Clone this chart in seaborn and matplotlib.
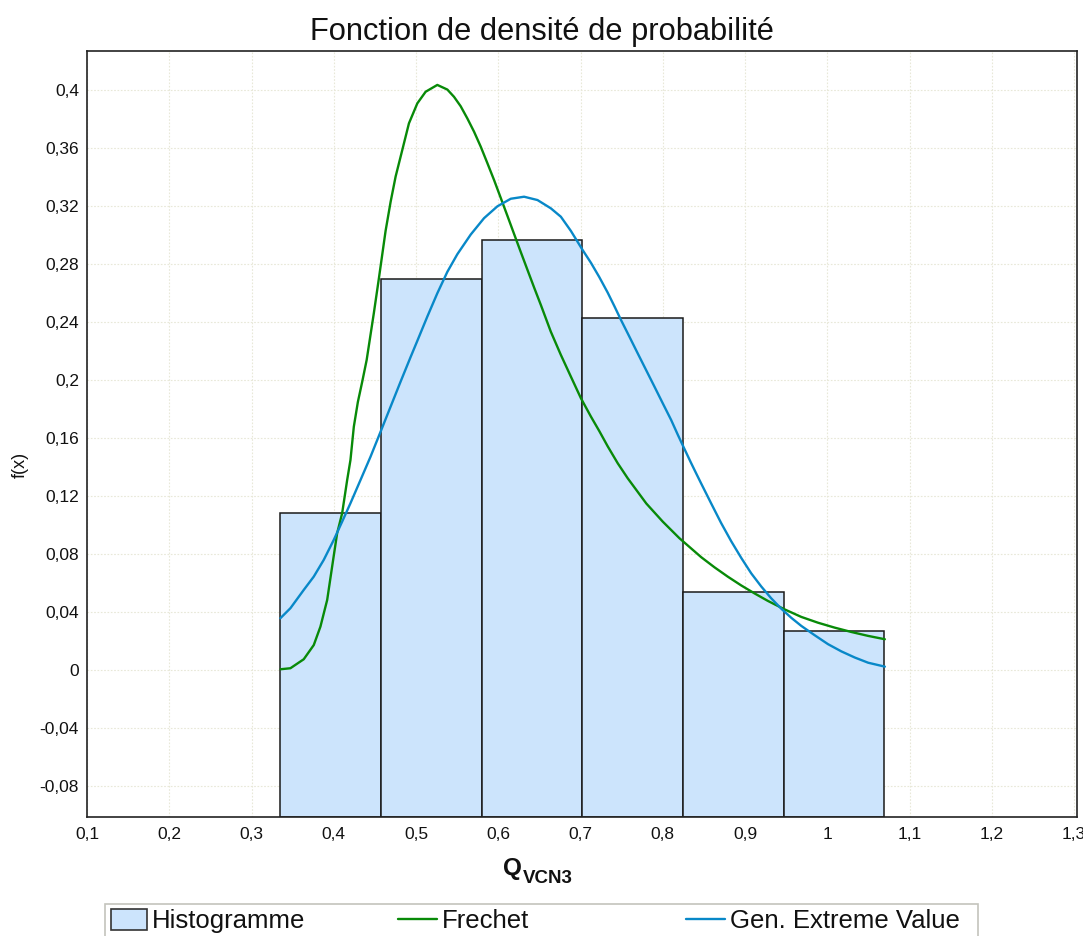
import numpy as np
import pandas as pd
import matplotlib
matplotlib.use("Agg")
import matplotlib.pyplot as plt
from matplotlib.ticker import MultipleLocator, FixedLocator
from matplotlib.patches import Rectangle, Patch
from matplotlib.lines import Line2D
import seaborn as sns

# ---------------- data ----------------
bin_edges = [0.335, 0.4574, 0.5798, 0.7022, 0.8246, 0.947, 1.0694]
bin_heights = [0.1085, 0.2699, 0.2968, 0.2430, 0.0540, 0.0271]

frechet_x = [0.3354, 0.3473, 0.3635, 0.3757, 0.3838, 0.3920, 0.3980, 0.4041,
             0.4102, 0.4163, 0.4203, 0.4244, 0.4293, 0.4346, 0.4400, 0.4487,
             0.4548, 0.4630, 0.4691, 0.4752, 0.4833, 0.4914, 0.5016, 0.5117,
             0.5259, 0.5381, 0.5462, 0.5543, 0.5625, 0.5706, 0.5787, 0.5868,
             0.5949, 0.6030, 0.6112, 0.6193, 0.6274, 0.6356, 0.6437, 0.6518,
             0.6639, 0.6761, 0.6883, 0.7005, 0.7127, 0.7228, 0.7330, 0.7452,
             0.7574, 0.78, 0.80, 0.82, 0.8467, 0.8629, 0.8792, 0.8954,
             0.9116, 0.9279, 0.9481, 0.9684, 0.9887, 1.009, 1.0293, 1.0497,
             1.07]
frechet_y = [0.0007, 0.0014, 0.0076, 0.0174, 0.0301, 0.0485, 0.0714, 0.0945,
             0.1083, 0.1312, 0.1450, 0.1680, 0.1850, 0.1990, 0.2140, 0.2462,
             0.2700, 0.3030, 0.3230, 0.3405, 0.3588, 0.3772, 0.3910, 0.3990,
             0.4037, 0.4005, 0.3955, 0.3890, 0.3805, 0.3714, 0.3611, 0.3497,
             0.3381, 0.3258, 0.3133, 0.3008, 0.2884, 0.2760, 0.2638, 0.2519,
             0.2335, 0.2175, 0.2025, 0.1876, 0.1749, 0.1650, 0.1545, 0.1428,
             0.1324, 0.1150, 0.1025, 0.0912, 0.0780, 0.0710, 0.0645, 0.0585,
             0.0530, 0.0478, 0.0420, 0.0368, 0.0328, 0.0294, 0.0264, 0.0237,
             0.0214]

gev_x = [0.3351, 0.3473, 0.3635, 0.3757, 0.3878, 0.4000, 0.4102, 0.4203,
         0.4325, 0.4447, 0.4569, 0.4691, 0.4812, 0.4934, 0.5016, 0.5138,
         0.5259, 0.5381, 0.5503, 0.5665, 0.5827, 0.5990, 0.6152, 0.6314,
         0.6477, 0.6639, 0.6761, 0.6883, 0.7025, 0.7127, 0.7228, 0.7330,
         0.7411, 0.7492, 0.7594, 0.7695, 0.7797, 0.7899, 0.8000, 0.8102,
         0.8183, 0.8263, 0.8344, 0.8406, 0.8467, 0.8589, 0.8710, 0.8832,
         0.8954, 0.9076, 0.9197, 0.9319, 0.9440, 0.9562, 0.9684, 0.9846,
         1.0009, 1.0172, 1.0334, 1.0497, 1.0700]
gev_y = [0.0359, 0.0428, 0.0554, 0.0646, 0.0761, 0.0899, 0.1025, 0.1152,
         0.1312, 0.1473, 0.1645, 0.1818, 0.1990, 0.2160, 0.2272, 0.2440,
         0.2600, 0.2748, 0.2870, 0.3005, 0.3118, 0.3200, 0.3252, 0.3266,
         0.3243, 0.3186, 0.3128, 0.3030, 0.2899, 0.2810, 0.2712, 0.2605,
         0.2512, 0.2416, 0.2301, 0.2186, 0.2071, 0.1956, 0.1841, 0.1726,
         0.1624, 0.1527, 0.1430, 0.1358, 0.1288, 0.1150, 0.1015, 0.0890,
         0.0775, 0.0668, 0.0578, 0.0496, 0.0425, 0.0362, 0.0306, 0.0242,
         0.0180, 0.0130, 0.0088, 0.0052, 0.0025]

x_ticks = [0.1, 0.2, 0.3, 0.4, 0.5, 0.6, 0.7, 0.8, 0.9, 1.0, 1.1, 1.2, 1.3]
x_ticklabels = ["0,1", "0,2", "0,3", "0,4", "0,5", "0,6", "0,7", "0,8",
                "0,9", "1", "1,1", "1,2", "1,3"]
y_ticks = [-0.08, -0.04, 0.0, 0.04, 0.08, 0.12, 0.16, 0.2, 0.24, 0.28,
           0.32, 0.36, 0.4]
y_ticklabels = ["-0,08", "-0,04", "0", "0,04", "0,08", "0,12", "0,16",
                "0,2", "0,24", "0,28", "0,32", "0,36", "0,4"]

title = "Fonction de densité de probabilité"
ylabel = "f(x)"
legend_labels = ["Histogramme", "Frechet", "Gen. Extreme Value"]

# ---------------- style ----------------
sns.set_style("white")
plt.rcParams["font.family"] = ["Liberation Sans", "DejaVu Sans"]

W, H = 1083, 936
fig = plt.figure(figsize=(W / 100, H / 100), dpi=100)

def fx(px):
    return px / W

def fy(py):
    return 1 - py / H

ax = fig.add_axes([fx(87), fy(817), fx(1077) - fx(87), fy(51) - fy(817)])

XMIN, XMAX = 0.1, 1.3036
YMIN, YMAX = -0.1012, 0.4271

bar_fill = "#cce4fc"
green = "#088a08"
blue = "#0888c8"

# histogram bars (drawn from the bottom of the plot area)
lefts = np.array(bin_edges[:-1])
widths = np.diff(bin_edges)
heights = np.array(bin_heights)
ax.bar(lefts, heights - YMIN, bottom=YMIN, width=widths, align="edge",
       color=bar_fill, edgecolor="#1a1a1a", linewidth=1.1, zorder=2)

df_f = pd.DataFrame({"x": frechet_x, "y": frechet_y})
df_g = pd.DataFrame({"x": gev_x, "y": gev_y})
sns.lineplot(data=df_f, x="x", y="y", ax=ax, color=green, linewidth=1.7,
             sort=False, estimator=None, zorder=3, legend=False)
sns.lineplot(data=df_g, x="x", y="y", ax=ax, color=blue, linewidth=1.7,
             sort=False, estimator=None, zorder=3, legend=False)

ax.set_xlim(XMIN, XMAX)
ax.set_ylim(YMIN, YMAX)

ax.xaxis.set_major_locator(FixedLocator(x_ticks))
ax.set_xticklabels(x_ticklabels)
ax.xaxis.set_minor_locator(MultipleLocator(0.025))
ax.yaxis.set_major_locator(FixedLocator(y_ticks))
ax.set_yticklabels(y_ticklabels)
ax.yaxis.set_minor_locator(MultipleLocator(0.01))

ax.tick_params(axis="both", which="major", direction="out", length=5,
               width=1, color="#a8a8a0", labelsize=12.5, labelcolor="#111111")
ax.tick_params(axis="both", which="minor", direction="out", length=3,
               width=1, color="#a8a8a0")
ax.tick_params(axis="x", which="major", pad=2)
ax.tick_params(axis="y", which="major", pad=0.8)

ax.set_axisbelow(True)
ax.grid(True, which="major", color="#e8e8d8", linestyle=(0, (1.5, 1.5)),
        linewidth=0.8)

for s in ax.spines.values():
    s.set_visible(True)
    s.set_color("#222222")
    s.set_linewidth(1.2)

ax.set_xlabel("")
ax.set_ylabel("")

# title
fig.text(0.5, fy(40), title, ha="center", va="baseline", fontsize=22.2,
         color="#111111")

# y label
fig.text(fx(20), fy(465), ylabel, ha="center", va="center", rotation=90,
         fontsize=13, color="#111111")

# x label Q_VCN3
fig.text(fx(503), fy(875), "Q", ha="left", va="baseline", fontsize=17.5,
         fontweight="bold", color="#111111")
fig.text(fx(523), fy(883), "VCN3", ha="left", va="baseline", fontsize=13.5,
         fontweight="bold", color="#111111")

# legend frame (extends past the bottom edge)
fig.patches.append(Rectangle((fx(105), fy(960)), fx(978) - fx(105),
                             fy(904) - fy(960), transform=fig.transFigure,
                             facecolor="none", edgecolor="#c4c4bc",
                             linewidth=1.2, clip_on=False))

h_hist = Patch(facecolor=bar_fill, edgecolor="#333333", linewidth=1.2)
h_fre = Line2D([], [], color=green, linewidth=1.7)
h_gev = Line2D([], [], color=blue, linewidth=1.7)

leg_fs = 18.5
for handle, lab, px in [(h_hist, legend_labels[0], 111),
                        (h_fre, legend_labels[1], 398),
                        (h_gev, legend_labels[2], 686)]:
    is_patch = isinstance(handle, Patch)
    fig.legend([handle], [lab], loc="center left",
               bbox_to_anchor=(fx(px), fy(921)), frameon=False,
               fontsize=leg_fs, borderpad=0, borderaxespad=0,
               handlelength=1.4 if is_patch else 1.5,
               handleheight=0.93 if is_patch else 0.7,
               handletextpad=0.2, labelcolor="#111111")

fig.savefig("out.png", dpi=100)
